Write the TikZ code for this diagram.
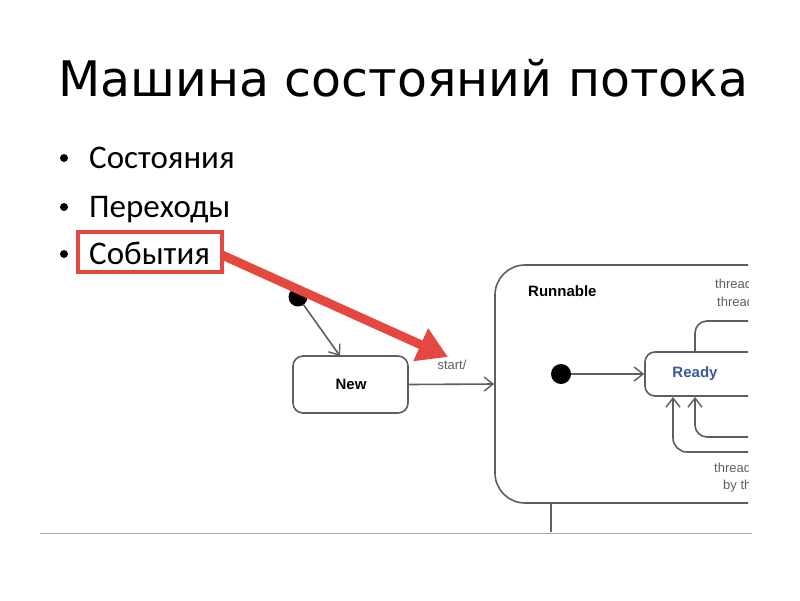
\documentclass[tikz,border=0pt]{standalone}
\usepackage{fontspec}
\setmainfont{DejaVu Sans}
\newfontfamily\bulletfont{Carlito}
\newfontfamily\diagfont{Liberation Sans}
\usetikzlibrary{arrows.meta}
\definecolor{redmark}{HTML}{E5483F}
\definecolor{umlgray}{HTML}{5E5E5E}
\definecolor{readyblue}{HTML}{3A5A9A}
\tikzset{
  titletext/.style={anchor=base west, inner sep=0pt, font=\fontsize{49}{55}\selectfont},
  bullettext/.style={anchor=base west, inner sep=0pt, font=\bulletfont\fontsize{33}{38}\selectfont},
  bulletdot/.style={circle, fill=black, inner sep=0pt, minimum size=8pt},
  umlline/.style={draw=umlgray, line width=1.6pt},
  umlarrow/.style={umlline, -{Straight Barb[length=9pt,width=14pt,line width=1.4pt]}},
  statebox/.style={umlline, rounded corners=10pt, fill=white, inner sep=0pt},
  initdot/.style={circle, fill=black, inner sep=0pt, minimum size=19pt},
  statelabel/.style={font=\diagfont\bfseries\fontsize{15}{17}\selectfont, inner sep=0pt},
  smalllabel/.style={font=\diagfont\fontsize{13}{15}\selectfont, text=umlgray, inner sep=0pt},
  redbox/.style={draw=redmark, line width=4pt},
  redarrow/.style={draw=redmark, line width=9pt, -{Triangle[length=30pt,width=34pt]}}
}
\begin{document}
\begin{tikzpicture}[x=1pt,y=-1pt]
\useasboundingbox (0,0) rectangle (800,600);
% title
\node[titletext] (title) at (58,96) {Машина состояний потока};
% bullets
\node[bulletdot] (d1) at (64,158) {};
\node[bulletdot] (d2) at (64,207) {};
\node[bulletdot] (d3) at (64,254) {};
\node[bullettext] (b1) at (89,168) {Состояния};
\node[bullettext] (b2) at (89,217) {Переходы};
\node[bullettext] (b3) at (89,264) {События};
% separator
\draw[draw=gray!70, line width=1pt] (40,533) -- (752,533);
% diagram (clipped image)
\begin{scope}
\clip (283,262) rectangle (748,531);
\node[statebox, rounded corners=30pt, minimum width=320pt, minimum height=238pt] (runnable) at (655,384) {};
\node[statelabel, anchor=west] (runlbl) at (528,291) {Runnable};
\node[initdot] (init1) at (298,297) {};
\node[statebox, minimum width=115pt, minimum height=57pt] (new) at (350.5,384.5) {};
\node[statelabel] (newlbl) at (351,384) {New};
\node[smalllabel] (start) at (452,365) {start/};
\draw[umlarrow] (init1) -- (340,356);
\draw[umlarrow] (new.east) -- (runnable.west);
\draw[umlline] (551,503) -- (551,535);
\node[initdot, minimum size=20pt] (init2) at (561,374) {};
\node[statebox, minimum width=120pt, minimum height=44pt] (ready) at (705,374) {};
\node[statelabel, text=readyblue] (readylbl) at (695,374) {Ready};
\draw[umlarrow] (init2) -- (ready.west);
\draw[umlline, rounded corners=12pt] (695,352) -- (695,321) -- (770,321);
\draw[umlarrow, rounded corners=12pt] (770,437) -- (695,437) -- (695,397);
\draw[umlarrow, rounded corners=14pt] (770,452) -- (673,452) -- (673,397);
\node[smalllabel, anchor=west] (t1) at (715,284) {thread};
\node[smalllabel, anchor=west] (t2) at (717,302) {thread};
\node[smalllabel, anchor=west] (t3) at (714,468) {thread};
\node[smalllabel, anchor=west] (t4) at (723,486) {by the};
\end{scope}
% red highlight
\draw[redbox] (78,232) rectangle (222,272);
\coordinate (redstart) at (222,255);
\coordinate (redtip) at (448,357);
\draw[redarrow] (redstart) -- (redtip);
\end{tikzpicture}
\end{document}
